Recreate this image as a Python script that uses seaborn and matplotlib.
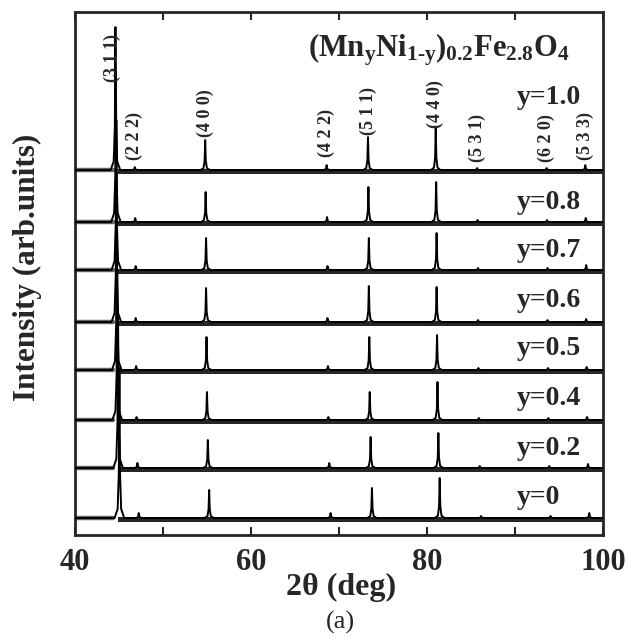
import numpy as np
import pandas as pd
import matplotlib
matplotlib.use("Agg")
from matplotlib import pyplot as plt
import seaborn as sns

# compositions, top to bottom
samples = ["y=1.0", "y=0.8", "y=0.7", "y=0.6", "y=0.5", "y=0.4", "y=0.2", "y=0"]
hkl = ["(3 1 1)", "(2 2 2)", "(4 0 0)", "(4 2 2)", "(5 1 1)", "(4 4 0)", "(5 3 1)", "(6 2 0)", "(5 3 3)"]
# peak positions (2theta, deg) for y=1.0 and the drift of each sample
peak_pos = [44.6, 46.8, 54.8, 68.6, 73.3, 81.0, 85.7, 93.6, 98.0]
pos_shift = [0.0, 0.05, 0.1, 0.1, 0.15, 0.2, 0.3, 0.45]
# peak heights (arb. units)
heights = {
    "y=1.0": [143, 3, 30, 5, 33, 42, 2, 2, 5],
    "y=0.8": [150, 4, 30, 5, 35, 40, 2, 2, 4],
    "y=0.7": [150, 4, 32, 4, 32, 37, 2, 2, 5],
    "y=0.6": [150, 4, 34, 4, 36, 35, 2, 2, 3],
    "y=0.5": [150, 4, 33, 4, 33, 35, 2, 2, 3],
    "y=0.4": [150, 3, 28, 3, 28, 38, 2, 2, 3],
    "y=0.2": [150, 5, 28, 5, 31, 35, 2, 2, 4],
    "y=0":   [150, 5, 28, 5, 30, 40, 2, 2, 5],
}
# vertical offset of each pattern in the stack
offsets = [348, 296, 248, 196, 148, 98, 50, 0]
# height of each composition label above its pattern
label_lift = [73, 20, 20, 22, 22, 22, 20, 21]
# noise band around the baseline (below, above)
noise_lo, noise_hi = 4.0, 1.5

# peak outline (relative width, relative height)
shape_dx = [-0.55, -0.2, -0.07, 0.0, 0.07, 0.2, 0.55]
shape_fr = [0.0, 0.06, 0.3, 1.0, 0.3, 0.06, 0.0]

rows = []
for s, off, sh in zip(samples, offsets, pos_shift):
    rows.append((s, 40.0, off))
    for p, h in zip(peak_pos, heights[s]):
        for dx, fr in zip(shape_dx, shape_fr):
            rows.append((s, p + sh + dx, off + fr * h))
    rows.append((s, 100.0, off))
df = pd.DataFrame(rows, columns=["sample", "two_theta", "intensity"])

sns.set_style("ticks")
plt.rcParams["font.family"] = ["Liberation Serif", "DejaVu Serif"]
plt.rcParams["font.weight"] = "bold"
plt.rcParams["mathtext.fontset"] = "custom"
plt.rcParams["mathtext.rm"] = "Liberation Serif:bold"
plt.rcParams["mathtext.it"] = "Liberation Serif:bold"
plt.rcParams["mathtext.bf"] = "Liberation Serif:bold"

fig = plt.figure(figsize=(6.3, 6.38), dpi=100)
ax = fig.add_axes([0.119, 0.1614, 0.838, 0.8196])

for off in offsets:
    ax.plot([40, 44.3], [off, off], color="#666666", lw=3.2, zorder=1)
    ax.fill_between([44.9, 100], off - noise_lo, off + noise_hi, color="black", alpha=0.85, lw=0, zorder=2)

sns.lineplot(data=df, x="two_theta", y="intensity", hue="sample", palette=["black"] * len(samples),
             estimator=None, sort=False, legend=False, lw=1.4, ax=ax, zorder=3)

ax.set_xlim(40, 100)
ax.set_ylim(-17, 506)
ax.set_yticks([])
ax.set_xticks([40, 60, 80, 100])
ax.set_xticks([50, 70, 90], minor=True)
ax.tick_params(axis="x", which="both", direction="in", top=True, length=6, width=1.5,
               labelsize=22, pad=9)
for sp in ax.spines.values():
    sp.set_linewidth(2)
ax.set_xlabel("")
ax.set_ylabel("")
fig.text(0.541, 0.08, "2\u03b8 (deg)", ha="center", va="center", fontsize=23, fontweight="bold")
fig.text(0.043, 0.5815, "Intensity (arb.units)", rotation=90, ha="center", va="center",
         fontsize=22.5, fontweight="bold")

# sample labels
for s, off, lift in zip(samples, offsets, label_lift):
    ax.text(90.2, off + lift, s, ha="left", va="center", fontsize=20, fontweight="bold")

# hkl labels (bottom of text in axes-data units)
hkl_bottom = [436, 358, 381, 361, 383, 390, 356, 356, 358]
for lab, p, yb in zip(hkl, peak_pos, hkl_bottom):
    ax.text(p - 0.3 if lab == "(3 1 1)" else p, yb, lab, rotation=90, ha="center", va="bottom",
            fontsize=13, fontweight="bold")

ax.text(0.69, 0.928, r"$(\mathrm{Mn_yNi_{1\text{-}y}})_{0.2}\mathrm{Fe_{2.8}O_4}$",
        transform=ax.transAxes, ha="center", va="center", fontsize=22)

fig.text(0.541, 0.024, "(a)", ha="center", va="center", fontsize=19, fontweight="normal")

fig.savefig("out.png", dpi=100)
